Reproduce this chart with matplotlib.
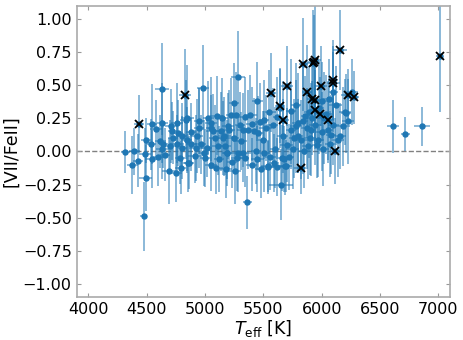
import matplotlib
matplotlib.use("Agg")
import matplotlib.pyplot as plt

# whole sample: Teff, [VII/FeII] and their errors
teff = [4318, 4378, 4395, 4427, 4493, 4493, 4484, 4539, 4548, 4548,
        4582, 4628, 4636, 4619, 4642, 4634, 4657, 4690, 4711, 4720,
        4728, 4748, 4762, 4768, 4757, 4785, 4791, 4806, 4848, 4835,
        4842, 4854, 4883, 4920, 4934, 4948, 4963, 4911, 4983, 4991,
        5015, 5049, 5049, 5066, 5092, 5083, 5112, 5135, 5158, 5175,
        5206, 5192, 4862, 5286, 5149, 5221, 5264, 5387, 5198, 5322,
        5365, 5422, 5451, 5164, 5250, 5308, 5193, 5279, 5322, 5273,
        5507, 5493, 5522, 5536, 5665, 5737, 5737, 5780, 5794, 5794,
        5823, 5837, 5880, 5909, 5966, 6023, 6052, 6081, 6138, 6181,
        6224, 6210, 5679, 5694, 5751, 5593, 5436, 5507, 5657, 5685,
        5536, 4476, 5364, 5651, 6611, 6717, 6861, 7012,
        5000, 5050, 5120, 5180, 5230, 5260, 5340, 5400, 5450, 5480,
        5560, 5600, 5620, 5700, 5720, 5760, 5850, 5870, 5890, 5900,
        5940, 5960, 5980, 6000, 6010, 6040, 6070, 6100, 6120, 6160,
        5620, 5580, 5640, 5550, 5470, 5400, 5340, 5300, 5100, 5030,
        4950, 4880, 4800, 4700, 4600, 5250, 5450, 5780, 5860, 5920,
        6000, 6060, 6100, 6200, 6260,
        4436, 4831, 5565, 5703, 5645, 5671, 5843, 5923, 5943, 5935,
        6161, 5874, 5995, 6098, 6098, 5920, 5943, 5943, 5983, 6058,
        6224, 6276, 6118, 5823]
vfe = [-0.005, -0.105, 0.0, -0.07, -0.2, 0.085, -0.02, 0.053, -0.06, 0.208,
       0.173, 0.471, 0.215, 0.077, 0.053, 0.015, -0.023, -0.148, 0.19, 0.153,
       0.103, -0.16, 0.215, 0.14, 0.053, -0.048, -0.123, 0.028, 0.253, 0.24,
       0.09, -0.085, 0.053, 0.028, 0.115, 0.178, 0.053, -0.035, 0.483, -0.01,
       0.028, 0.215, 0.18, 0.153, -0.123, 0.103, 0.04, 0.153, 0.1, 0.04,
       0.165, -0.01, -0.085, 0.561, 0.253, 0.278, 0.278, 0.278, 0.19, 0.165,
       0.165, 0.153, 0.14, 0.115, 0.103, 0.078, -0.01, -0.01, -0.01, -0.048,
       0.24, 0.09, 0.178, -0.11, 0.115, 0.303, 0.165, 0.19, 0.215, 0.115,
       0.09, 0.228, 0.04, 0.165, 0.09, 0.253, 0.165, 0.128, 0.09, 0.19,
       0.228, 0.29, -0.06, -0.11, 0.015, -0.085, 0.002, -0.01, -0.05, -0.11,
       -0.12, -0.49, -0.386, -0.25, 0.19, 0.13, 0.19, 0.722,
       -0.05, -0.1, -0.06, -0.13, -0.08, -0.15, -0.05, -0.1, -0.06, -0.13,
       -0.04, 0.02, -0.12, 0.05, -0.04, 0.1, 0.0, 0.18, 0.3, 0.1,
       0.2, 0.05, 0.33, 0.15, 0.02, 0.28, 0.06, 0.2, 0.35, 0.12,
       0.26, 0.2, 0.33, 0.3, 0.22, 0.21, 0.26, 0.2, 0.27, 0.25,
       0.23, 0.15, 0.12, 0.04, -0.04, 0.37, 0.38, 0.35, 0.27, 0.25,
       0.38, 0.4, 0.45, 0.3, 0.45,
       0.208, 0.424, 0.446, 0.496, 0.346, 0.235, 0.659, 0.672, 0.692, 0.68,
       0.767, 0.453, 0.496, 0.541, 0.516, 0.40, 0.386, 0.316, 0.286, 0.235,
       0.424, 0.411, 0.002, -0.123]
teff_err = [40, 45, 50, 40, 55, 45, 50, 40, 60, 45,
            50, 60, 45, 50, 40, 55, 45, 60, 50, 40,
            45, 55, 50, 40, 60, 45, 50, 40, 55, 45,
            50, 40, 45, 60, 50, 40, 45, 55, 50, 40,
            45, 50, 40, 55, 60, 45, 50, 40, 45, 50,
            55, 40, 45, 60, 50, 45, 40, 55, 50, 45,
            40, 50, 45, 55, 40, 50, 45, 40, 55, 50,
            45, 40, 55, 60, 50, 45, 40, 55, 50, 45,
            60, 50, 45, 40, 55, 50, 45, 40, 55, 60,
            50, 45, 40, 50, 55, 45, 40, 50, 45, 40,
            55, 30, 40, 100, 50, 40, 70, 30,
            45, 50, 40, 55, 45, 50, 40, 45, 55, 50,
            45, 40, 50, 55, 45, 40, 50, 45, 40, 55,
            50, 45, 40, 55, 50, 45, 40, 50, 55, 45,
            40, 50, 45, 55, 40, 50, 45, 40, 55, 50,
            45, 40, 50, 55, 45, 40, 50, 45, 40, 55,
            50, 45, 40, 55, 50,
            45, 50, 40, 55, 45, 50, 40, 45, 55, 50,
            60, 45, 50, 40, 55, 45, 50, 40, 45, 50,
            55, 45, 40, 60]
vfe_err = [0.16, 0.22, 0.18, 0.2, 0.25, 0.17, 0.2, 0.19, 0.22, 0.3,
           0.22, 0.35, 0.3, 0.2, 0.18, 0.22, 0.2, 0.25, 0.28, 0.22,
           0.2, 0.22, 0.3, 0.25, 0.22, 0.2, 0.2, 0.24, 0.4, 0.3,
           0.25, 0.22, 0.2, 0.25, 0.28, 0.3, 0.22, 0.2, 0.32, 0.25,
           0.22, 0.35, 0.25, 0.28, 0.2, 0.25, 0.22, 0.3, 0.28, 0.22,
           0.3, 0.2, 0.2, 0.35, 0.3, 0.28, 0.32, 0.3, 0.25, 0.28,
           0.3, 0.25, 0.28, 0.3, 0.25, 0.22, 0.25, 0.3, 0.22, 0.25,
           0.3, 0.22, 0.25, 0.2, 0.28, 0.4, 0.3, 0.35, 0.38, 0.28,
           0.3, 0.4, 0.25, 0.35, 0.28, 0.35, 0.25, 0.3, 0.28, 0.3,
           0.32, 0.3, 0.25, 0.2, 0.3, 0.22, 0.25, 0.3, 0.25, 0.22,
           0.2, 0.26, 0.2, 0.27, 0.2, 0.13, 0.15, 0.42,
           0.22, 0.2, 0.25, 0.22, 0.2, 0.25, 0.22, 0.2, 0.25, 0.22,
           0.25, 0.3, 0.22, 0.28, 0.25, 0.3, 0.28, 0.3, 0.35, 0.28,
           0.3, 0.25, 0.35, 0.3, 0.28, 0.3, 0.25, 0.3, 0.3, 0.25,
           0.3, 0.28, 0.3, 0.32, 0.3, 0.28, 0.3, 0.25, 0.3, 0.28,
           0.25, 0.22, 0.25, 0.2, 0.22, 0.3, 0.3, 0.32, 0.3, 0.28,
           0.3, 0.3, 0.3, 0.25, 0.25,
           0.22, 0.35, 0.3, 0.3, 0.28, 0.3, 0.35, 0.4, 0.45, 0.35,
           0.3, 0.35, 0.3, 0.3, 0.28, 0.3, 0.32, 0.3, 0.28, 0.3,
           0.2, 0.2, 0.25, 0.2]

# flagged stars (black crosses)
cross_teff = [4436, 4831, 5565, 5703, 5645, 5671, 5843, 5923, 5943, 5935,
              6161, 5874, 5995, 6098, 6098, 5920, 5943, 5943, 5983, 6058,
              6224, 6276, 6118, 5823, 7012]
cross_vfe = [0.208, 0.424, 0.446, 0.496, 0.346, 0.235, 0.659, 0.672, 0.692, 0.68,
             0.767, 0.453, 0.496, 0.541, 0.516, 0.40, 0.386, 0.316, 0.286, 0.235,
             0.424, 0.411, 0.002, -0.123, 0.722]

fig = plt.figure(figsize=(4.64, 3.40), dpi=100)
ax = fig.add_axes([0.165, 0.127, 0.805, 0.855])

ax.errorbar(teff, vfe, xerr=teff_err, yerr=vfe_err, fmt="none",
            ecolor="#1f77b4", elinewidth=1.2, alpha=0.6, zorder=2)
ax.plot(teff, vfe, "o", color="#1f77b4", ms=3.6, zorder=3)
ax.plot(cross_teff, cross_vfe, "x", color="black", ms=5.5, mew=1.3, zorder=4)
ax.axhline(0, color="grey", ls="--", lw=1, zorder=1)

ax.set_xlim(3900, 7100)
ax.set_ylim(-1.1, 1.1)
ax.set_xticks([4000, 4500, 5000, 5500, 6000, 6500, 7000])
ax.set_yticks([-1.0, -0.75, -0.5, -0.25, 0.0, 0.25, 0.5, 0.75, 1.0])
ax.tick_params(direction="in", top=True, right=True, labelsize=11.5,
               color="#999999", length=3)
for s in ax.spines.values():
    s.set_color("#aaaaaa")
    s.set_linewidth(1.2)

ax.set_xlabel(r"$T_{\rm eff}$ [K]", fontsize=12.5, labelpad=1)
ax.set_ylabel("[VII/FeII]", fontsize=12.5, labelpad=2)

fig.savefig("out.png", dpi=100)
